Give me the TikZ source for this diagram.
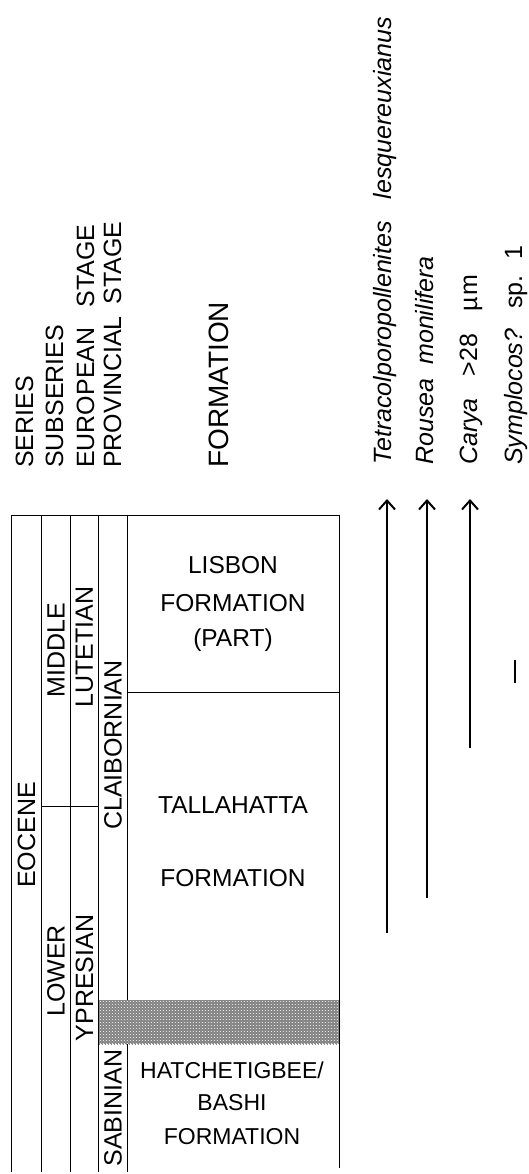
\documentclass[tikz,border=0pt]{standalone}
\usepackage{fontspec}
\setmainfont{Liberation Sans}
\usetikzlibrary{arrows.meta,patterns}
\begin{document}
\begin{tikzpicture}[x=1pt,y=-1pt,
  tbl/.style={line width=0.9pt},
  hdr/.style={rotate=90,anchor=base west,inner sep=0pt,font=\fontsize{25}{30}\selectfont},
  bighdr/.style={rotate=90,anchor=base west,inner sep=0pt,font=\fontsize{28}{32}\selectfont},
  spc/.style={rotate=90,anchor=base west,inner sep=0pt,font=\fontsize{25}{30}\selectfont\itshape},
  unit/.style={rotate=90,anchor=center,inner sep=0pt,font=\fontsize{25}{30}\selectfont},
  fm/.style={anchor=center,inner sep=0pt,font=\fontsize{24.5}{30}\selectfont},
  fmsmall/.style={anchor=center,inner sep=0pt,font=\fontsize{23}{28}\selectfont},
  rngarrow/.style={line width=2pt,-{Straight Barb[length=9pt,width=16pt]}},
  rngtick/.style={line width=1.6pt},
]
\useasboundingbox (0,0) rectangle (529,1174);

% headers
\node[hdr] (series) at (33,468) {SERIES};
\node[hdr] (subseries) at (63,468) {SUBSERIES};
\node[hdr] (european) at (94,468) {EUROPEAN\hspace{20pt}STAGE};
\node[hdr] (provincial) at (121,468) {PROVINCIAL\hspace{12pt}STAGE};
\node[bighdr] (formhdr) at (228,468) {FORMATION};

% species labels
\node[spc] (tetra) at (391,465) {Tetracolporopollenites\hspace{22pt}lesquereuxianus};
\node[spc] (rousea) at (433,465) {Rousea\hspace{14pt}monilifera};
\node[spc] (carya) at (477,465) {Carya\hspace{22pt}{\upshape >28\hspace{22pt}µ\hspace{2pt}m}};
\node[spc] (sympl) at (522,465) {Symplocos?\hspace{20pt}{\upshape sp.\hspace{16pt}1}};

% shaded band
\fill[black!50] (98.5,1000) rectangle (339,1044);
\fill[pattern=crosshatch dots, pattern color=white] (98.5,1000) rectangle (339,1044);
\fill[pattern=vertical lines, pattern color=black!45] (98.5,1000) rectangle (339,1044);

% table lines
\draw[tbl] (11,1172) -- (11,515) -- (339,515) -- (339,1168);
\draw[tbl] (41.5,515) -- (41.5,1172);
\draw[tbl] (70,515) -- (70,1172);
\draw[tbl] (98.5,515) -- (98.5,1172);
\draw[tbl] (127.5,515) -- (127.5,1000);
\draw[tbl] (127.5,1044) -- (127.5,1172);
\draw[tbl] (41.5,806) -- (98.5,806);
\draw[tbl] (127.5,692) -- (339,692);

% table texts
\node[unit] (eocene) at (26.5,835) {EOCENE};
\node[unit] (middle) at (56,650) {MIDDLE};
\node[unit] (lower) at (56,971) {LOWER};
\node[unit] (lutetian) at (84.5,647) {LUTETIAN};
\node[unit] (ypresian) at (84.5,978) {YPRESIAN};
\node[unit] (claibornian) at (113,745) {CLAIBORNIAN};
\node[unit] (sabinian) at (113,1108) {SABINIAN};

\node[fm] (lisbon1) at (233,565) {LISBON};
\node[fm] (lisbon2) at (233,603) {FORMATION};
\node[fm] (lisbon3) at (233,640) {(PART)};
\node[fm] (talla1) at (233,805) {TALLAHATTA};
\node[fm] (talla2) at (233,878) {FORMATION};
\node[fmsmall] (hatch1) at (232,1070) {HATCHETIGBEE/};
\node[fmsmall] (hatch2) at (232,1103) {BASHI};
\node[fmsmall] (hatch3) at (232,1137) {FORMATION};

% range bars
\coordinate (tetraTop) at (387,499);
\coordinate (tetraBot) at (387,933);
\coordinate (rouseaTop) at (427,499);
\coordinate (rouseaBot) at (427,898);
\coordinate (caryaTop) at (470,499);
\coordinate (caryaBot) at (470,748);
\coordinate (symplTop) at (515,660);
\coordinate (symplBot) at (515,683);
\draw[rngarrow] (tetraBot) -- (tetraTop);
\draw[rngarrow] (rouseaBot) -- (rouseaTop);
\draw[rngarrow] (caryaBot) -- (caryaTop);
\draw[rngtick] (symplTop) -- (symplBot);
\end{tikzpicture}
\end{document}
